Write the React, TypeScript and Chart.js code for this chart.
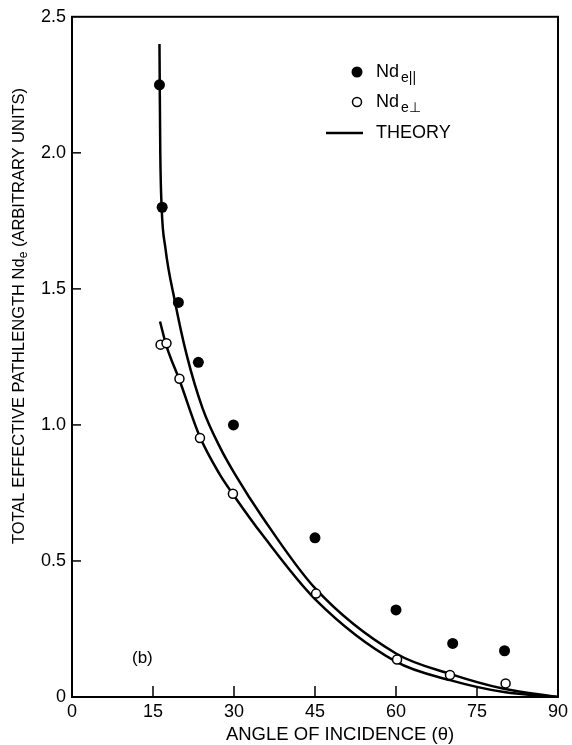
import { useEffect, useRef } from "react";
import { Chart, registerables } from "chart.js";

Chart.register(...registerables);

// Measured data (angle of incidence in degrees, effective pathlength)
const parallelAngles = [16.2, 16.7, 19.7, 23.4, 29.9, 45, 60, 70.5, 80.1];
const parallelValues = [2.25, 1.8, 1.45, 1.23, 1.0, 0.585, 0.32, 0.197, 0.17];
const perpAngles = [16.4, 17.5, 19.9, 23.7, 29.8, 45.2, 60.2, 70.0, 80.3];
const perpValues = [1.295, 1.3, 1.17, 0.952, 0.747, 0.38, 0.138, 0.081, 0.05];

// Theory curves
const theoryParAngles = [16.2, 16.25, 16.35, 16.6, 17.3, 19.0, 21.2, 24.2, 27.6, 30, 35.3, 45, 60, 70, 80, 90];
const theoryParValues = [2.4, 2.25, 2.0, 1.8, 1.65, 1.46, 1.26, 1.06, 0.91, 0.825, 0.66, 0.4, 0.16, 0.085, 0.03, 0];
const theoryPerpAngles = [16.3, 17.5, 19.9, 23.6, 27.3, 30, 35.3, 45, 60, 70, 80, 90];
const theoryPerpValues = [1.38, 1.29, 1.165, 0.96, 0.82, 0.74, 0.595, 0.36, 0.13, 0.062, 0.018, 0];

const xTicks = [0, 15, 30, 45, 60, 75, 90];
const yTicks = [0, 0.5, 1.0, 1.5, 2.0, 2.5];
const yTickLabels = ["0", "0.5", "1.0", "1.5", "2.0", "2.5"];

const xTitle = "ANGLE OF INCIDENCE (θ)";
const yTitleA = "TOTAL EFFECTIVE PATHLENGTH Nd";
const yTitleSub = "e";
const yTitleB = " (ARBITRARY UNITS)";
const legendParMain = "Nd";
const legendParSub = "e||";
const legendPerpMain = "Nd";
const legendPerpSub = "e⊥";
const legendTheory = "THEORY";
const panelLabel = "(b)";

const FONT = "'Liberation Sans', Arial, sans-serif";

const toXY = (xs: number[], ys: number[]) => xs.map((x, i) => ({ x, y: ys[i] }));

const decorPlugin = {
  id: "decor",
  afterDraw(chart: any) {
    const ctx = chart.ctx as CanvasRenderingContext2D;
    const { left, right, top, bottom } = chart.chartArea;
    const xs = chart.scales.x;
    const ys = chart.scales.y;
    ctx.save();
    ctx.strokeStyle = "#000";
    ctx.fillStyle = "#000";
    // frame
    ctx.lineWidth = 2;
    ctx.strokeRect(left, top, right - left, bottom - top);
    // inward ticks
    ctx.lineWidth = 1.5;
    yTicks.forEach((v) => {
      if (v === 0 || v === 2.5) return;
      const py = ys.getPixelForValue(v);
      ctx.beginPath();
      ctx.moveTo(left, py);
      ctx.lineTo(left + 9, py);
      ctx.stroke();
    });
    xTicks.forEach((v) => {
      if (v === 0 || v === 90) return;
      const px = xs.getPixelForValue(v);
      ctx.beginPath();
      ctx.moveTo(px, bottom);
      ctx.lineTo(px, bottom - 11);
      ctx.stroke();
    });

    // x title
    ctx.font = `18.5px ${FONT}`;
    ctx.textAlign = "center";
    ctx.textBaseline = "middle";
    ctx.fillText(xTitle, 340, 735);

    // y title (rotated, with subscript)
    ctx.save();
    ctx.translate(19, 316);
    ctx.rotate(-Math.PI / 2);
    const mainFont = `16.5px ${FONT}`;
    const subFont = `12px ${FONT}`;
    ctx.font = mainFont;
    const wA = ctx.measureText(yTitleA).width;
    const wB = ctx.measureText(yTitleB).width;
    ctx.font = subFont;
    const wS = ctx.measureText(yTitleSub).width;
    const total = wA + wS + wB;
    let cx = -total / 2;
    ctx.textAlign = "left";
    ctx.textBaseline = "middle";
    ctx.font = mainFont;
    ctx.fillText(yTitleA, cx, 0);
    cx += wA;
    ctx.font = subFont;
    ctx.fillText(yTitleSub, cx, 5);
    cx += wS;
    ctx.font = mainFont;
    ctx.fillText(yTitleB, cx, 0);
    ctx.restore();

    // legend
    ctx.textAlign = "left";
    ctx.textBaseline = "middle";
    ctx.beginPath();
    ctx.arc(357, 72, 5.5, 0, Math.PI * 2);
    ctx.fill();
    ctx.font = `18px ${FONT}`;
    ctx.fillText(legendParMain, 376, 72);
    let w = ctx.measureText(legendParMain).width;
    ctx.font = `14px ${FONT}`;
    ctx.fillText(legendParSub, 376 + w + 2, 78);
    ctx.beginPath();
    ctx.arc(357, 102, 4.5, 0, Math.PI * 2);
    ctx.fillStyle = "#fff";
    ctx.fill();
    ctx.lineWidth = 1.5;
    ctx.stroke();
    ctx.fillStyle = "#000";
    ctx.font = `18px ${FONT}`;
    ctx.fillText(legendPerpMain, 376, 102);
    w = ctx.measureText(legendPerpMain).width;
    ctx.font = `14px ${FONT}`;
    ctx.fillText(legendPerpSub, 376 + w + 2, 108);
    ctx.lineWidth = 2.5;
    ctx.beginPath();
    ctx.moveTo(326, 133);
    ctx.lineTo(363, 133);
    ctx.stroke();
    ctx.font = `18px ${FONT}`;
    ctx.fillText(legendTheory, 376, 133);

    // panel label
    ctx.font = `17px ${FONT}`;
    ctx.fillText(panelLabel, 132, 658);
    ctx.restore();
  },
};

export default function App() {
  const canvasRef = useRef<HTMLCanvasElement | null>(null);

  useEffect(() => {
    const canvas = canvasRef.current;
    if (!canvas) return;
    const chart = new Chart(canvas, {
      type: "scatter",
      data: {
        datasets: [
          {
            label: "Nd_e∥",
            data: toXY(parallelAngles, parallelValues),
            pointStyle: "circle",
            pointRadius: 5.5,
            pointBackgroundColor: "#000",
            pointBorderColor: "#000",
            pointBorderWidth: 0,
            showLine: false,
            order: 1,
          },
          {
            label: "Nd_e⊥",
            data: toXY(perpAngles, perpValues),
            pointStyle: "circle",
            pointRadius: 4.5,
            pointBackgroundColor: "#fff",
            pointBorderColor: "#000",
            pointBorderWidth: 1.5,
            showLine: false,
            order: 1,
          },
          {
            label: "Theory ∥",
            data: toXY(theoryParAngles, theoryParValues),
            showLine: true,
            pointRadius: 0,
            borderColor: "#000",
            borderWidth: 2.5,
            cubicInterpolationMode: "monotone",
            order: 2,
          },
          {
            label: "Theory ⊥",
            data: toXY(theoryPerpAngles, theoryPerpValues),
            showLine: true,
            pointRadius: 0,
            borderColor: "#000",
            borderWidth: 2.5,
            cubicInterpolationMode: "monotone",
            order: 2,
          },
        ],
      },
      options: {
        responsive: false,
        animation: false,
        layout: { padding: { top: 15, right: 11, left: 0, bottom: 0 } },
        plugins: {
          legend: { display: false },
          tooltip: { enabled: false },
          title: { display: false },
        },
        scales: {
          x: {
            type: "linear",
            min: 0,
            max: 90,
            grid: { display: false, drawTicks: false },
            border: { display: false },
            afterBuildTicks: (scale: any) => {
              scale.ticks = xTicks.map((v) => ({ value: v }));
            },
            afterFit: (scale: any) => {
              scale.height = 48;
            },
            ticks: {
              color: "#000",
              font: { family: FONT, size: 18 },
              padding: 4,
              maxRotation: 0,
              autoSkip: false,
              callback: (v: any) => String(v),
            },
          },
          y: {
            type: "linear",
            min: 0,
            max: 2.5,
            grid: { display: false, drawTicks: false },
            border: { display: false },
            afterBuildTicks: (scale: any) => {
              scale.ticks = yTicks.map((v) => ({ value: v }));
            },
            afterFit: (scale: any) => {
              scale.width = 72;
            },
            ticks: {
              color: "#000",
              font: { family: FONT, size: 18 },
              padding: 6,
              autoSkip: false,
              callback: (v: any) => {
                const i = yTicks.indexOf(Number(v));
                return i >= 0 ? yTickLabels[i] : "";
              },
            },
          },
        },
      },
      plugins: [decorPlugin],
    });
    return () => chart.destroy();
  }, []);

  return (
    <div style={{ position: "fixed", left: 0, top: 0, width: 572, height: 745, background: "#fff" }}>
      <canvas ref={canvasRef} width={572} height={745} style={{ width: 572, height: 745, display: "block" }} />
    </div>
  );
}
